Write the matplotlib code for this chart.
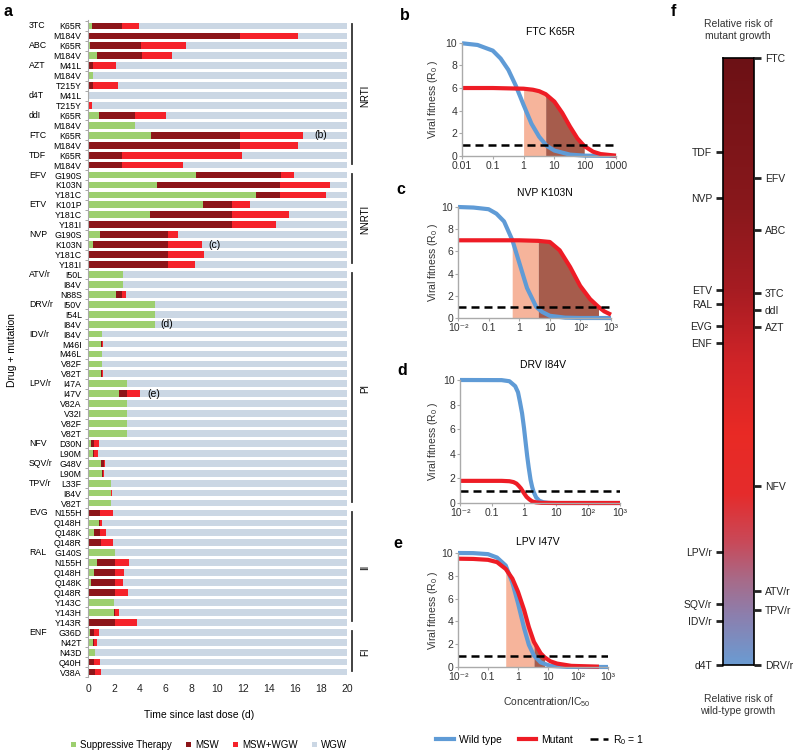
import numpy as np
import matplotlib
matplotlib.use("Agg")
import matplotlib.pyplot as plt
from matplotlib.colors import LinearSegmentedColormap
from matplotlib.patches import Patch
from matplotlib.lines import Line2D

plt.rcParams['font.family'] = ['Liberation Sans', 'DejaVu Sans']
plt.rcParams['mathtext.default'] = 'regular'

W, H = 800, 755

# ---------------- panel a data ----------------
drug_groups = [('3TC', 2), ('ABC', 2), ('AZT', 3), ('d4T', 2), ('ddI', 2), ('FTC', 2), ('TDF', 2),
               ('EFV', 3), ('ETV', 3), ('NVP', 4),
               ('ATV/r', 3), ('DRV/r', 3), ('IDV/r', 5), ('LPV/r', 6), ('NFV', 2), ('SQV/r', 2), ('TPV/r', 3),
               ('EVG', 4), ('RAL', 8), ('ENF', 5)]
mutations = ['K65R', 'M184V', 'K65R', 'M184V', 'M41L', 'M184V', 'T215Y', 'M41L', 'T215Y', 'K65R',
             'M184V', 'K65R', 'M184V', 'K65R', 'M184V',
             'G190S', 'K103N', 'Y181C', 'K101P', 'Y181C', 'Y181I', 'G190S', 'K103N', 'Y181C', 'Y181I',
             'I50L', 'I84V', 'N88S', 'I50V', 'I54L', 'I84V', 'I84V', 'M46I', 'M46L', 'V82F', 'V82T',
             'I47A', 'I47V', 'V82A', 'V32I', 'V82F', 'V82T', 'D30N', 'L90M', 'G48V', 'L90M',
             'L33F', 'I84V', 'V82T',
             'N155H', 'Q148H', 'Q148K', 'Q148R', 'G140S', 'N155H', 'Q148H', 'Q148K', 'Q148R',
             'Y143C', 'Y143H', 'Y143R',
             'G36D', 'N42T', 'N43D', 'Q40H', 'V38A']
# durations (days) of each window
supp = [0.3, 0, 0.13, 0.7, 0.1, 0.35, 0, 0, 0, 0.85, 3.65, 4.9, 0, 0, 0,
        8.35, 5.35, 12.95, 8.9, 4.75, 0, 0.9, 0.4, 0, 0,
        2.7, 2.7, 2.15, 5.2, 5.2, 5.2, 1.05, 1.0, 1.05, 1.05, 1.03,
        3.0, 2.4, 3.0, 3.0, 3.0, 3.0, 0.2, 0.4, 1.0, 1.08, 1.77, 1.74, 1.8,
        0.05, 0.87, 0.44, 0, 2.1, 0.67, 0.44, 0.26, 0.1, 2.03, 2.03, 0,
        0.13, 0.36, 0.56, 0, 0]
msw = [2.35, 11.7, 4.0, 3.45, 0.25, 0, 0.35, 0, 0, 2.75, 0, 6.8, 11.7, 2.6, 2.6,
       6.55, 9.5, 1.9, 2.25, 6.4, 11.15, 5.3, 5.8, 6.2, 6.2,
       0, 0, 0.45, 0, 0, 0, 0, 0.08, 0, 0, 0.05,
       0, 0.6, 0, 0, 0, 0, 0.26, 0.05, 0.23, 0.05, 0, 0, 0,
       0.9, 0.05, 0.51, 0.97, 0, 1.43, 1.66, 1.84, 2.0, 0, 0.07, 2.1,
       0.37, 0.14, 0, 0.5, 0.54]
msw_wgw = [1.3, 4.55, 3.4, 2.35, 1.8, 0, 2.0, 0, 0.3, 2.45, 0, 4.9, 4.55, 9.3, 4.7,
           1.0, 3.85, 3.55, 1.35, 4.4, 3.35, 0.75, 2.6, 2.75, 2.05,
           0, 0, 0.35, 0, 0, 0, 0, 0.05, 0, 0, 0.04,
           0, 1.05, 0, 0, 0, 0, 0.36, 0.3, 0.1, 0.1, 0, 0.1, 0,
           1.0, 0.16, 0.43, 0.93, 0, 1.1, 0.67, 0.62, 1.0, 0, 0.28, 1.7,
           0.37, 0.22, 0, 0.45, 0.49]
t_max = 20
drug_classes = [('NRTI', 15), ('NNRTI', 10), ('PI', 24), ('II', 12), ('FI', 5)]
panel_refs = [('(b)', 11, 18.0), ('(c)', 22, 9.8), ('(d)', 30, 6.1), ('(e)', 37, 5.1)]

# ---------------- panels b-e data (concentration/IC50, R0) ----------------
b_wt_c = [0.01, 0.032, 0.1, 0.18, 0.32, 0.56, 1, 1.8, 3.2, 5.6, 10, 32, 100, 1000]
b_wt_r = [9.95, 9.8, 9.3, 8.6, 7.6, 6.2, 4.5, 2.85, 1.7, 0.9, 0.48, 0.12, 0.03, 0.0]
b_mu_c = [0.01, 0.1, 1, 2, 3.2, 5.2, 10, 18, 32, 56, 93, 180, 316, 1000]
b_mu_r = [6.0, 6.0, 5.94, 5.85, 5.72, 5.46, 4.8, 3.8, 2.6, 1.55, 0.88, 0.38, 0.17, 0.03]

c_wt_c = [0.01, 0.032, 0.1, 0.18, 0.32, 0.6, 1, 1.8, 3.6, 5.6, 10, 32, 100, 1000]
c_wt_r = [10.0, 9.95, 9.8, 9.4, 8.7, 7.0, 5.0, 2.7, 1.0, 0.55, 0.2, 0.03, 0.0, 0.0]
c_mu_c = [0.01, 0.59, 1, 4.2, 10, 21, 46, 98, 208, 390, 600, 1000]
c_mu_r = [7.0, 7.0, 7.0, 6.95, 6.85, 6.1, 4.6, 2.9, 1.7, 1.0, 0.6, 0.3]

d_wt_c = [0.01, 0.2, 0.35, 0.53, 0.65, 0.75, 0.87, 1, 1.15, 1.26, 1.4, 1.6, 1.8, 2.0, 2.4, 3, 4, 6, 10, 1000]
d_wt_r = [10.0, 9.99, 9.9, 9.5, 9.0, 8.2, 7.3, 6.1, 4.7, 3.8, 2.9, 1.9, 1.3, 0.9, 0.45, 0.19, 0.06, 0.01, 0, 0]
d_mu_c = [0.01, 0.2, 0.35, 0.47, 0.58, 0.67, 0.8, 1, 1.2, 1.46, 1.8, 2.4, 3.5, 10, 1000]
d_mu_r = [1.8, 1.8, 1.77, 1.7, 1.58, 1.42, 1.19, 0.8, 0.5, 0.3, 0.13, 0.05, 0.01, 0, 0]

e_wt_c = [0.01, 0.032, 0.1, 0.2, 0.39, 0.65, 1, 1.6, 2.3, 3.4, 5.7, 12, 44, 1000]
e_wt_r = [10.0, 9.99, 9.9, 9.6, 8.9, 7.4, 5.6, 3.4, 1.95, 1.0, 0.4, 0.1, 0.01, 0]
e_mu_c = [0.01, 0.032, 0.1, 0.2, 0.39, 0.65, 1, 1.6, 2.3, 3.4, 5.7, 7.7, 12, 20, 60, 500]
e_mu_r = [9.5, 9.48, 9.4, 9.2, 8.6, 7.75, 6.6, 5.0, 3.5, 2.2, 1.2, 0.85, 0.5, 0.3, 0.1, 0.03]

# ---------------- panel f data (0 = wild-type risk, 1 = mutant risk) ----------------
f_left = ['TDF', 'NVP', 'ETV', 'RAL', 'EVG', 'ENF', 'LPV/r', 'SQV/r', 'IDV/r', 'd4T']
f_left_pos = [0.845, 0.769, 0.618, 0.595, 0.558, 0.530, 0.186, 0.100, 0.072, 0.0]
f_right = ['FTC', 'EFV', 'ABC', '3TC', 'ddI', 'AZT', 'NFV', 'ATV/r', 'TPV/r', 'DRV/r']
f_right_pos = [1.0, 0.802, 0.717, 0.613, 0.585, 0.557, 0.295, 0.122, 0.091, 0.0]

col_supp = '#9dcf6f'
col_msw = '#8c1519'
col_mw = '#f5222a'
col_wgw = '#cbd7e4'
col_wt = '#5f9bd6'
col_mu = '#ee1c25'
col_light = '#f6b49b'
col_dark = '#a65c4c'


def px_axes(fig, l, t, r, b):
    return fig.add_axes([l / W, 1 - b / H, (r - l) / W, (b - t) / H])


fig = plt.figure(figsize=(W / 100, H / 100), dpi=100)

# ================= panel a =================
ax = px_axes(fig, 88, 20, 347, 677)
n = len(mutations)
rows = np.arange(n)
supp = np.array(supp)
msw = np.array(msw)
msw_wgw = np.array(msw_wgw)
end = supp + msw + msw_wgw
ax.barh(rows, supp, height=0.68, color=col_supp, lw=0)
ax.barh(rows, msw, left=supp, height=0.68, color=col_msw, lw=0)
ax.barh(rows, msw_wgw, left=supp + msw, height=0.68, color=col_mw, lw=0)
ax.barh(rows, t_max - end, left=end, height=0.68, color=col_wgw, lw=0)
ax.set_xlim(0, t_max)
ax.set_ylim(n - 0.5, -0.6)
ax.set_xticks(range(0, 21, 2))
ax.tick_params(axis='x', length=0, labelsize=7.5, pad=5, colors='#222222')
ax.set_yticks(rows)
ax.set_yticklabels(mutations, fontsize=6.3)
ax.tick_params(axis='y', length=0, pad=4.5)
ax.set_yticks(np.arange(n + 1) - 0.5, minor=True)
ax.tick_params(axis='y', which='minor', length=2, color='#999999', width=0.6)
for s in ['top', 'right', 'bottom']:
    ax.spines[s].set_visible(False)
ax.spines['left'].set_color('#aaaaaa')
ax.spines['left'].set_linewidth(0.8)

ytr = ax.get_yaxis_transform()
i = 0
for name, k in drug_groups:
    ax.text(-0.228, i, name, transform=ytr, ha='left', va='center', fontsize=6.3)
    i += k
i = 0
for name, k in drug_classes:
    ax.plot([1.019, 1.019], [i - 0.15, i + k - 1.15], transform=ytr, color='#333333', lw=1.3,
            clip_on=False)
    ax.text(1.07, i + (k - 1) / 2, name, transform=ytr, rotation=90, ha='center', va='center',
            fontsize=7)
    i += k
for lab, r, x in panel_refs:
    ax.text(x, r, lab, ha='center', va='center', fontsize=7.5)

fig.text(12 / W, 1 - 350 / H, 'Drug + mutation', rotation=90, ha='center', va='center', fontsize=7.5)
fig.text(199 / W, 1 - 715 / H, 'Time since last dose (d)', ha='center', va='center', fontsize=7.5)
fig.text(8 / W, 1 - 12 / H, 'a', fontsize=11.5, fontweight='bold', ha='center', va='center')

hs = [Patch(facecolor=c, lw=0) for c in [col_supp, col_msw, col_mw, col_wgw]]
fig.legend(hs, ['Suppressive Therapy', 'MSW', 'MSW+WGW', 'WGW'], loc='center',
           bbox_to_anchor=(209 / W, 1 - 745 / H), ncol=4, frameon=False, fontsize=7,
           handlelength=0.5, handleheight=0.5, handletextpad=0.4, columnspacing=1.5)


# ================= panels b-e =================
def curve_panel(rect, wt_c, wt_r, mu_c, mu_r, light, dark, labels, title, title_x, title_y,
                letter, letter_xy):
    l, t, r, b = rect
    a = px_axes(fig, l, t, r, b)
    a.set_xscale('log')
    a.set_xlim(0.01, 1000)
    a.set_ylim(0, 10)
    mc = np.array(mu_c)
    mr = np.array(mu_r)
    for (lo, hi), col in [(light, col_light), (dark, col_dark)]:
        if lo is None:
            continue
        m = (mc >= lo) & (mc <= hi)
        a.fill_between(mc[m], 0, mr[m], color=col, lw=0)
    a.plot(wt_c, wt_r, color=col_wt, lw=3, clip_on=False, solid_capstyle='butt')
    a.plot(mu_c, mu_r, color=col_mu, lw=3, clip_on=False, solid_capstyle='butt')
    a.axhline(1, color='black', lw=1.8, dashes=(3.2, 2))
    a.set_xticks([0.01, 0.1, 1, 10, 100, 1000])
    a.set_xticklabels(labels)
    a.minorticks_off()
    a.set_yticks(range(0, 11, 2))
    a.tick_params(labelsize=7.5, length=2, color='#aaaaaa', pad=1.5, colors='#333333')
    a.tick_params(color='#aaaaaa')
    for s in ['top', 'right']:
        a.spines[s].set_visible(False)
    for s in ['left', 'bottom']:
        a.spines[s].set_color('#aaaaaa')
        a.spines[s].set_linewidth(1.0)
    a.set_ylabel('Viral fitness (R$_{0}$ )', fontsize=7.5, color='#333333')
    a.yaxis.set_label_coords((440 - l) / (r - l), 0.5)
    fig.text(title_x / W, 1 - title_y / H, title, ha='center', va='center', fontsize=7.5)
    fig.text(letter_xy[0] / W, 1 - letter_xy[1] / H, letter, fontsize=11.5, fontweight='bold',
             ha='center', va='center')
    return a


sci = ['10⁻²', '0.1', '1', '10', '10²', '10³']
curve_panel((462, 42.7, 616, 156), b_wt_c, b_wt_r, b_mu_c, b_mu_r, (1, 5.2), (5.2, 93),
            ['0.01', '0.1', '1', '10', '100', '1000'], 'FTC K65R', 550, 32, 'b', (405, 15))
curve_panel((458, 207, 611, 318), c_wt_c, c_wt_r, c_mu_c, c_mu_r, (0.59, 4.2), (4.2, 390),
            sci, 'NVP K103N', 545, 193, 'c', (401, 190))
curve_panel((460, 380, 620, 503), d_wt_c, d_wt_r, d_mu_c, d_mu_r, (None, None), (None, None),
            sci, 'DRV I84V', 543, 365, 'd', (402, 370))
curve_panel((458, 553, 608, 667), e_wt_c, e_wt_r, e_mu_c, e_mu_r, (0.39, 3.4), (3.4, 7.7),
            sci, 'LPV I47V', 538, 542, 'e', (398, 543))

fig.text(547 / W, 1 - 702 / H, 'Concentration/IC$_{50}$', ha='center', va='center', fontsize=7.5,
         color='#333333')
lh = [Line2D([], [], color=col_wt, lw=3), Line2D([], [], color=col_mu, lw=3),
      Line2D([], [], color='black', lw=1.8, dashes=(3.2, 2))]
fig.legend(lh, ['Wild type', 'Mutant', 'R$_{0}$ = 1'], loc='center', bbox_to_anchor=(540 / W, 1 - 740 / H),
           ncol=3, frameon=False, fontsize=7.5, handlelength=1.7, handletextpad=0.5, columnspacing=1.6)

# ================= panel f =================
cmap = LinearSegmentedColormap.from_list('risk', [
    (0.0, '#6b9bd2'), (0.08, '#8c7fae'), (0.14, '#a86a88'), (0.2, '#c84a5a'),
    (0.28, '#e52c2c'), (0.38, '#e92a25'), (0.5, '#d02428'), (0.62, '#a61c22'),
    (0.75, '#8a181c'), (1.0, '#6c1115')])
af = px_axes(fig, 723, 58, 754, 665)
af.imshow(np.linspace(0, 1, 256).reshape(-1, 1), cmap=cmap, origin='lower', aspect='auto',
          extent=(0, 1, 0, 1))
af.set_xlim(0, 1)
af.set_ylim(0, 1)
af.set_xticks([])
af.set_yticks(f_left_pos)
af.set_yticklabels(f_left)
for s in af.spines.values():
    s.set_color('black')
    s.set_linewidth(1.2)
af.tick_params(axis='y', length=5, width=2, pad=3, labelsize=7.5, colors='#222222')
af2 = af.twinx()
af2.set_ylim(0, 1)
af2.set_yticks(f_right_pos)
af2.set_yticklabels(f_right)
af2.tick_params(axis='y', length=5, width=2, pad=3, labelsize=7.5, colors='#222222')
for s in af2.spines.values():
    s.set_visible(False)
fig.text(738 / W, 1 - 30 / H, 'Relative risk of\nmutant growth', ha='center', va='center',
         fontsize=7.5, color='#333333', linespacing=1.2)
fig.text(738 / W, 1 - 705 / H, 'Relative risk of\nwild-type growth', ha='center', va='center',
         fontsize=7.5, color='#333333', linespacing=1.2)
fig.text(673 / W, 1 - 12 / H, 'f', fontsize=11.5, fontweight='bold', ha='center', va='center')

fig.savefig('out.png', dpi=100)
